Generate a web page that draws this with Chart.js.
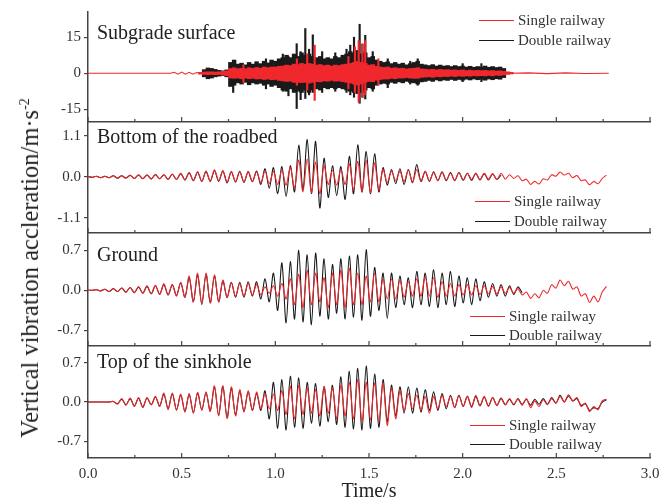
<!DOCTYPE html>
<html>
<head>
<meta charset="utf-8">
<script src="https://cdn.jsdelivr.net/npm/chart.js@4.4.1/dist/chart.umd.min.js"></script>
<style>
  body { margin: 0; background: #fff; }
  #wrap { position: relative; width: 669px; height: 502px; overflow: hidden; background: #fff;
          font-family: "Liberation Serif", "Times New Roman", serif; color: #333; }
  #wrap canvas { position: absolute; left: 0; top: 0; }
  .ttl { position: absolute; left: 97px; font-size: 20px; line-height: 20px; white-space: nowrap; color: #222; }
  .leg { position: absolute; height: 20px; line-height: 20px; font-size: 15px; white-space: nowrap;
         display: flex; align-items: center; color: #333; }
  .leg .ln { display: inline-block; width: 35px; border-top: 1.5px solid; margin-right: 4px; }
  #ytitle { position: absolute; left: 30px; top: 268px; transform: translate(-50%, -50%) rotate(-90deg);
            font-size: 24.5px; white-space: nowrap; color: #222; }
  #ytitle sup { font-size: 14px; }
</style>
</head>
<body>
<div id="wrap">
  <canvas id="c1" width="669" height="502"></canvas>
  <canvas id="c2" width="669" height="502"></canvas>
  <canvas id="c3" width="669" height="502"></canvas>
  <canvas id="c4" width="669" height="502"></canvas>

  <div class="ttl" style="top:22px">Subgrade surface</div>
  <div class="ttl" style="top:126px">Bottom of the roadbed</div>
  <div class="ttl" style="top:244px">Ground</div>
  <div class="ttl" style="top:351px">Top of the sinkhole</div>

  <div class="leg" style="left:479px;top:10px"><span class="ln" style="border-color:#f0282d"></span>Single railway</div>
  <div class="leg" style="left:479px;top:30px"><span class="ln" style="border-color:#1a1a1a"></span>Double railway</div>
  <div class="leg" style="left:475px;top:191px"><span class="ln" style="border-color:#f0282d"></span>Single railway</div>
  <div class="leg" style="left:475px;top:211px"><span class="ln" style="border-color:#1a1a1a"></span>Double railway</div>
  <div class="leg" style="left:470px;top:306px"><span class="ln" style="border-color:#f0282d"></span>Single railway</div>
  <div class="leg" style="left:470px;top:325px"><span class="ln" style="border-color:#1a1a1a"></span>Double railway</div>
  <div class="leg" style="left:470px;top:415px"><span class="ln" style="border-color:#f0282d"></span>Single railway</div>
  <div class="leg" style="left:470px;top:434px"><span class="ln" style="border-color:#1a1a1a"></span>Double railway</div>

  <div id="ytitle">Vertical vibration accleration/m·s<sup>-2</sup></div>
</div>
<script>
// ---- Subgrade surface: dense signal read as min/max per 0.02 s bin ----
const binStep = 0.02;
const subBlackStart = 0.62;
const subBlackHi = [1.5,2.2,2.0,1.6,1.2,1.0,1.4,4.5,5.5,3.8,
  4.2,3.5,4.5,3.8,4.8,4.0,5.0,4.3,5.5,5.0,
  6.0,6.5,7.5,6.5,8.0,7.0,8.5,7.5,8.0,7.0,
  6.5,7.0,6.0,6.5,6.0,7.0,6.5,7.5,8.0,9.0,
  8.5,9.5,8.0,8.5,6.5,7.0,5.5,5.0,4.5,4.8,
  4.0,4.5,3.8,4.2,3.5,4.0,4.5,5.0,3.8,3.5,
  3.2,3.6,3.0,3.4,3.0,3.2,2.8,3.2,2.8,3.0,
  2.6,2.9,2.5,2.8,2.6,3.0,2.5,2.8,2.4,2.6,
  2.0];
const subBlackLo = [-1.5,-2.3,-2.0,-1.5,-1.2,-1.0,-1.5,-5.5,-5.0,-4.0,
  -4.5,-3.8,-4.8,-4.0,-4.5,-4.2,-5.0,-4.5,-5.5,-5.0,
  -6.0,-7.0,-7.5,-6.5,-8.0,-7.5,-8.0,-7.0,-8.0,-7.0,
  -6.5,-7.0,-6.0,-6.5,-6.0,-6.5,-6.0,-6.5,-7.0,-7.5,
  -8.0,-8.5,-8.0,-7.0,-6.0,-6.5,-5.0,-4.5,-4.2,-4.5,
  -3.8,-4.2,-3.6,-4.0,-3.4,-3.8,-4.0,-4.5,-3.6,-3.4,
  -3.0,-3.4,-2.8,-3.2,-2.8,-3.0,-2.6,-3.0,-2.6,-2.9,
  -2.5,-2.8,-2.4,-2.7,-2.5,-2.9,-2.4,-2.7,-2.3,-2.5,
  -1.8];
const subRedStart = 0.60;
const subRedHi = [0.4,0.5,0.6,0.6,0.5,0.6,0.8,1.0,2.0,2.3,
  1.9,2.1,1.9,2.3,2.0,2.4,2.1,2.6,2.3,2.6,
  2.6,2.9,3.0,3.4,3.2,3.8,3.6,4.1,3.8,4.1,
  3.8,3.4,3.6,3.2,3.4,3.0,3.4,3.2,3.6,3.8,
  4.1,4.5,4.9,4.5,4.1,3.4,3.6,2.9,2.6,2.4,
  2.6,2.1,2.3,2.0,2.1,1.8,2.0,2.1,2.3,1.8,
  1.7,1.5,1.7,1.4,1.6,1.4,1.5,1.3,1.4,1.2,
  1.4,1.1,1.3,1.1,1.2,1.1,1.2,1.0,1.1,0.9,
  1.0,0.8,0.6,0.4];
const subRedLo = [-0.4,-0.5,-0.6,-0.5,-0.6,-0.5,-0.8,-1.0,-2.0,-2.1,
  -2.0,-2.3,-2.0,-2.3,-2.1,-2.4,-2.3,-2.6,-2.4,-2.7,
  -2.6,-3.0,-3.2,-3.4,-3.3,-3.8,-3.8,-3.9,-3.8,-4.1,
  -3.8,-3.5,-3.6,-3.2,-3.3,-3.0,-3.3,-3.2,-3.5,-3.8,
  -4.1,-4.5,-4.9,-4.5,-3.8,-3.4,-3.5,-2.9,-2.6,-2.4,
  -2.4,-2.1,-2.3,-2.0,-2.0,-1.8,-2.0,-2.1,-2.1,-1.7,
  -1.6,-1.5,-1.7,-1.4,-1.5,-1.3,-1.4,-1.2,-1.4,-1.1,
  -1.3,-1.1,-1.2,-1.0,-1.1,-1.0,-1.1,-0.9,-1.1,-0.8,
  -0.9,-0.7,-0.5,-0.3];
// isolated peaks
const blackSpikeT  = [0.775,0.95,1.04,1.07,1.114,1.135,1.16,1.18,1.20,1.25,1.32,1.38,1.40,1.42,1.45,1.465,1.48,1.52,1.60,1.72,1.76,2.0,2.1];
const blackSpikeHi = [3,6,8,7,12.3,9,18.6,10,16,9,8.5,10,11.7,15,20.4,12,15.8,9,6,5,6,4,4];
const blackSpikeLo = [-8,-6.5,-7.5,-9.4,-14.7,-11,-10.5,-9,-8,-8,-7.5,-8,-9,-10,-12.5,-10,-10.7,-7.5,-6,-4.5,-5,-3.5,-3.5];
const redSpikeT  = [0.83,1.115,1.17,1.21,1.39,1.425,1.445,1.465,1.48,1.55];
const redSpikeHi = [3.5,6,8,11.7,7,11,13.6,12.3,13.6,6];
const redSpikeLo = [-4,-5,-7,-11.3,-6.5,-8,-12,-10,-9,-5];
// quiet parts of the single railway trace
const redLineT = [0,0.3,0.44,0.46,0.48,0.5,0.52,0.54,0.56,0.58,0.6,2.26,2.35,2.45,2.55,2.65,2.78];
const redLineV = [0,0,0,0.4,-0.4,0.5,-0.4,0.4,-0.4,0.3,0,0,0.15,-0.15,0.15,-0.1,0];

// ---- Lower panels: peaks and troughs, one every 0.0225 s from t = 0 ----
const sampleStep = 0.0225;
const roadbedRed = [0.01,-0.01,0.02,-0.02,0.02,-0.02,0.03,-0.03,0.03,-0.03,
  0.05,-0.04,0.06,-0.05,0.05,-0.06,0.07,-0.05,0.06,-0.07,
  0.08,-0.07,0.1,-0.08,0.12,-0.1,0.14,-0.12,0.16,-0.12,
  0.19,-0.1,0.17,-0.14,0.15,-0.12,0.14,-0.13,0.15,-0.12,
  0.14,-0.15,0.16,-0.18,0.15,-0.2,0.18,-0.22,0.25,-0.3,
  0.45,-0.4,0.48,-0.42,0.4,-0.45,0.3,-0.2,0.18,-0.22,
  0.2,-0.2,0.35,-0.35,0.42,-0.4,0.45,-0.42,0.38,-0.35,
  0.2,-0.15,0.15,-0.1,0.15,-0.12,0.18,-0.14,0.2,-0.12,
  0.15,-0.1,0.12,-0.1,0.14,-0.08,0.1,-0.09,0.12,-0.08,
  0.1,-0.07,0.09,-0.08,0.1,-0.06,0.09,-0.07,0.1,-0.06,
  0.06,-0.04,0.03,-0.1,-0.06,-0.2,-0.12,-0.19,-0.05,-0.08,
  0.06,0.02,0.13,0.05,0.1,-0.02,0.04,-0.1,-0.08,-0.21,
  -0.12,-0.18,-0.04,0.05];
const roadbedBlack = [0.01,-0.01,0.02,-0.02,0.02,-0.02,0.03,-0.03,0.03,-0.03,
  0.04,-0.04,0.05,-0.05,0.05,-0.05,0.06,-0.05,0.06,-0.06,
  0.07,-0.07,0.09,-0.08,0.11,-0.1,0.13,-0.12,0.15,-0.12,
  0.17,-0.12,0.16,-0.16,0.14,-0.14,0.15,-0.15,0.14,-0.13,
  0.16,-0.2,0.22,-0.3,0.25,-0.45,0.28,-0.52,0.3,-0.4,
  0.85,-0.35,1.0,-0.45,0.95,-0.83,0.5,-0.55,0.3,-0.5,
  0.28,-0.6,0.55,-0.45,0.86,-0.4,0.68,-0.45,0.62,-0.4,
  0.25,-0.22,0.2,-0.18,0.22,-0.2,0.2,-0.15,0.33,-0.12,
  0.15,-0.12,0.14,-0.1,0.13,-0.1,0.12,-0.1,0.12,-0.09,
  0.1,-0.09,0.1,-0.08,0.09,-0.08,0.08,-0.07,0.05];
const groundRed = [0,0,0.01,-0.01,0.02,-0.02,0.03,-0.02,0.04,-0.03,
  0.05,-0.04,0.06,-0.05,0.08,-0.06,0.09,-0.07,0.12,-0.08,
  0.1,-0.1,0.14,-0.12,0.25,-0.2,0.3,-0.25,0.3,-0.22,
  0.27,-0.2,0.18,-0.12,0.14,-0.1,0.12,-0.1,0.12,-0.08,
  0.1,-0.08,0.06,-0.05,0.08,-0.1,0.12,-0.15,0.2,-0.25,
  0.28,-0.3,0.35,-0.25,0.3,-0.2,0.22,-0.3,0.3,-0.25,
  0.35,-0.3,0.38,-0.25,0.3,-0.25,0.25,-0.2,0.3,-0.2,
  0.2,-0.15,0.2,-0.15,0.18,-0.12,0.15,-0.1,0.2,-0.1,
  0.24,-0.1,0.22,-0.12,0.15,-0.1,0.12,-0.1,0.1,-0.08,
  0.1,-0.08,0.08,-0.07,0.08,-0.06,0.07,-0.06,0.06,-0.05,
  0.05,-0.05,0.03,-0.08,-0.03,-0.14,-0.06,-0.13,0.0,-0.05,
  0.1,0.04,0.18,0.08,0.16,0.02,0.06,-0.1,-0.06,-0.21,
  -0.1,-0.2,-0.03,0.07];
const groundBlack = [0,0,0.01,-0.01,0.02,-0.02,0.03,-0.02,0.04,-0.03,
  0.05,-0.04,0.06,-0.05,0.07,-0.06,0.08,-0.07,0.1,-0.08,
  0.1,-0.09,0.13,-0.12,0.22,-0.2,0.27,-0.24,0.28,-0.22,
  0.25,-0.2,0.16,-0.13,0.14,-0.12,0.14,-0.12,0.15,-0.1,
  0.15,-0.15,0.2,-0.2,0.3,-0.35,0.48,-0.57,0.5,-0.5,
  0.7,-0.55,0.62,-0.6,0.65,-0.45,0.55,-0.5,0.45,-0.4,
  0.55,-0.5,0.6,-0.47,0.62,-0.52,0.71,-0.45,0.4,-0.35,
  0.3,-0.49,0.3,-0.3,0.25,-0.25,0.22,-0.3,0.33,-0.25,
  0.3,-0.28,0.36,-0.3,0.3,-0.25,0.33,-0.28,0.25,-0.22,
  0.22,-0.25,0.2,-0.18,0.15,-0.12,0.12,-0.1,0.1,-0.1,
  0.08,-0.07,0.06,-0.04];
const sinkholeRed = [0,0,0,0,0,0,0.01,-0.04,0.06,-0.06,
  0.07,-0.08,0.08,-0.1,0.08,-0.05,0.1,-0.08,0.16,-0.14,
  0.16,-0.15,0.14,-0.18,0.15,-0.2,0.17,-0.15,0.18,-0.17,
  0.29,-0.25,0.29,-0.3,0.27,-0.25,0.22,-0.18,0.2,-0.15,
  0.18,-0.12,0.15,-0.12,0.14,-0.15,0.2,-0.22,0.28,-0.3,
  0.3,-0.22,0.25,-0.2,0.22,-0.25,0.28,-0.2,0.25,-0.3,
  0.3,-0.25,0.35,-0.3,0.4,-0.35,0.35,-0.32,0.34,-0.35,
  0.34,-0.42,0.25,-0.3,0.2,-0.15,0.15,-0.12,0.12,-0.15,
  0.1,-0.2,0.1,-0.12,0.12,-0.08,0.1,-0.1,0.12,-0.08,
  0.1,-0.1,0.12,-0.06,0.1,-0.08,0.08,-0.06,0.06,-0.05,
  0.06,-0.04,0.05,-0.06,0.06,-0.1,0.02,-0.08,0.04,-0.05,
  0.06,-0.02,0.1,0.0,0.13,0.02,0.08,-0.08,-0.02,-0.17,
  -0.08,-0.14,0.02,0.05];
const sinkholeBlack = [0,0,0,0,0,0,0.01,-0.03,0.05,-0.05,
  0.06,-0.07,0.07,-0.09,0.07,-0.05,0.09,-0.07,0.14,-0.12,
  0.15,-0.14,0.13,-0.17,0.14,-0.19,0.16,-0.14,0.17,-0.16,
  0.27,-0.24,0.28,-0.28,0.25,-0.23,0.2,-0.17,0.18,-0.15,
  0.15,-0.15,0.2,-0.3,0.35,-0.47,0.4,-0.5,0.46,-0.45,
  0.43,-0.47,0.35,-0.38,0.33,-0.43,0.27,-0.35,0.3,-0.4,
  0.45,-0.45,0.55,-0.48,0.6,-0.5,0.64,-0.47,0.5,-0.45,
  0.4,-0.35,0.3,-0.25,0.27,-0.2,0.27,-0.2,0.25,-0.18,
  0.22,-0.15,0.18,-0.15,0.15,-0.12,0.12,-0.1,0.12,-0.08,
  0.1,-0.08,0.1,-0.07,0.09,-0.07,0.08,-0.06,0.07,-0.05,
  0.05,-0.05,0.06,-0.04,0.05,-0.06,0.05,-0.04,0.06,-0.04,
  0.08,-0.02,0.12,0.0,0.11,0.02,0.06,-0.06,-0.03,-0.15,
  -0.1,-0.12,0.0,0.04];

const yTicksSub = [-15, 0, 15];
const yTicksRoadbed = [-1.1, 0, 1.1];
const yTicksSmall = [-0.7, 0, 0.7];

const axisColor = '#444';
const textColor = '#333';
const redColor = '#f0282d';
const blackColor = '#1a1a1a';
const serif = '"Liberation Serif", "Times New Roman", serif';

// ticks on the bottom line of each panel point up into the panel
const innerTicks = {
    id: 'innerTicks',
    afterDraw(chart) {
        const xs = chart.scales.x;
        const ctx = chart.ctx;
        const bottom = chart.chartArea.bottom;
        ctx.save();
        ctx.strokeStyle = axisColor;
        ctx.lineWidth = 1.2;
        xs.ticks.forEach((tk, i) => {
            const px = xs.getPixelForTick(i);
            const major = Math.round(tk.value * 100) % 50 === 0;
            ctx.beginPath();
            ctx.moveTo(px, bottom);
            ctx.lineTo(px, bottom - (major ? 5 : 3));
            ctx.stroke();
        });
        ctx.restore();
    }
};

function panelOptions(p) {
    return {
        responsive: false,
        animation: false,
        events: [],
        layout: { padding: { top: p.top, bottom: p.padBottom, left: 0, right: 19 } },
        plugins: { legend: { display: false }, tooltip: { enabled: false } },
        scales: {
            x: {
                type: 'linear', min: 0, max: 3, offset: false,
                afterFit: s => { s.height = p.xHeight; },
                border: { color: axisColor, width: 1.5 },
                grid: { drawOnChartArea: false, drawTicks: false },
                ticks: {
                    display: p.xLabels, stepSize: 0.25, padding: 7, autoSkip: false, maxRotation: 0,
                    color: textColor, font: { family: serif, size: 15 },
                    callback: v => (Math.round(v * 100) % 50 === 0 ? v.toFixed(1) : '')
                },
                title: { display: p.xLabels, text: 'Time/s', color: '#222', padding: 0,
                         font: { family: serif, size: 20, lineHeight: 1 } }
            },
            y: {
                min: p.yMin, max: p.yMax,
                afterFit: s => { s.width = 88; },
                afterBuildTicks: s => { s.ticks = p.yTicks.map(v => ({ value: v })); },
                border: { color: axisColor, width: 1.5 },
                grid: { drawOnChartArea: false, drawTicks: true, tickLength: 4, color: axisColor, lineWidth: 1.2 },
                ticks: { padding: 3, color: textColor, font: { family: serif, size: 15 }, callback: p.yFmt }
            }
        }
    };
}

const toPoints = vals => vals.map((v, i) => ({ x: i * sampleStep, y: v }));
const toBins = (start, lo, hi) => hi.map((h, i) => ({ x: start + i * binStep, y: [lo[i], h] }));
const toSpikes = (t, lo, hi) => t.map((x, i) => ({ x: x, y: [lo[i], hi[i]] }));

function traceSets(red, black) {
    return [
        { label: 'Single railway', data: toPoints(red), borderColor: redColor, borderWidth: 1.1,
          pointRadius: 0, tension: 0.3 },
        { label: 'Double railway', data: toPoints(black), borderColor: blackColor, borderWidth: 1.1,
          pointRadius: 0, tension: 0.3 }
    ];
}

// Subgrade surface
new Chart(document.getElementById('c1'), {
    type: 'bar',
    data: {
        datasets: [
            { type: 'line', label: 'Single railway', data: redLineT.map((t, i) => ({ x: t, y: redLineV[i] })),
              borderColor: redColor, borderWidth: 1.1, pointRadius: 0 },
            { data: toSpikes(redSpikeT, redSpikeLo, redSpikeHi), backgroundColor: redColor,
              barThickness: 1.5, grouped: false },
            { data: toBins(subRedStart, subRedLo, subRedHi), backgroundColor: redColor,
              barThickness: 3.8, grouped: false },
            { data: toSpikes(blackSpikeT, blackSpikeLo, blackSpikeHi), backgroundColor: blackColor,
              barThickness: 1.5, grouped: false },
            { label: 'Double railway', data: toBins(subBlackStart, subBlackLo, subBlackHi),
              backgroundColor: blackColor, barThickness: 3.8, grouped: false }
        ]
    },
    options: panelOptions({ top: 9, padBottom: 380, xHeight: 0, xLabels: false,
        yMin: -20.3, yMax: 25.5, yTicks: yTicksSub, yFmt: v => String(v) }),
    plugins: [innerTicks]
});

// Bottom of the roadbed
new Chart(document.getElementById('c2'), {
    type: 'line',
    data: { datasets: traceSets(roadbedRed, roadbedBlack) },
    options: panelOptions({ top: 122, padBottom: 269, xHeight: 0, xLabels: false,
        yMin: -1.5, yMax: 1.47, yTicks: yTicksRoadbed, yFmt: v => v.toFixed(1) }),
    plugins: [innerTicks]
});

// Ground
new Chart(document.getElementById('c3'), {
    type: 'line',
    data: { datasets: traceSets(groundRed, groundBlack) },
    options: panelOptions({ top: 233, padBottom: 156, xHeight: 0, xLabels: false,
        yMin: -0.97, yMax: 1.0, yTicks: yTicksSmall, yFmt: v => v.toFixed(1) }),
    plugins: [innerTicks]
});

// Top of the sinkhole
new Chart(document.getElementById('c4'), {
    type: 'line',
    data: { datasets: traceSets(sinkholeRed, sinkholeBlack) },
    options: panelOptions({ top: 346, padBottom: 0, xHeight: 44, xLabels: true,
        yMin: -1.0, yMax: 1.0, yTicks: yTicksSmall, yFmt: v => v.toFixed(1) }),
    plugins: [innerTicks]
});
</script>
</body>
</html>
